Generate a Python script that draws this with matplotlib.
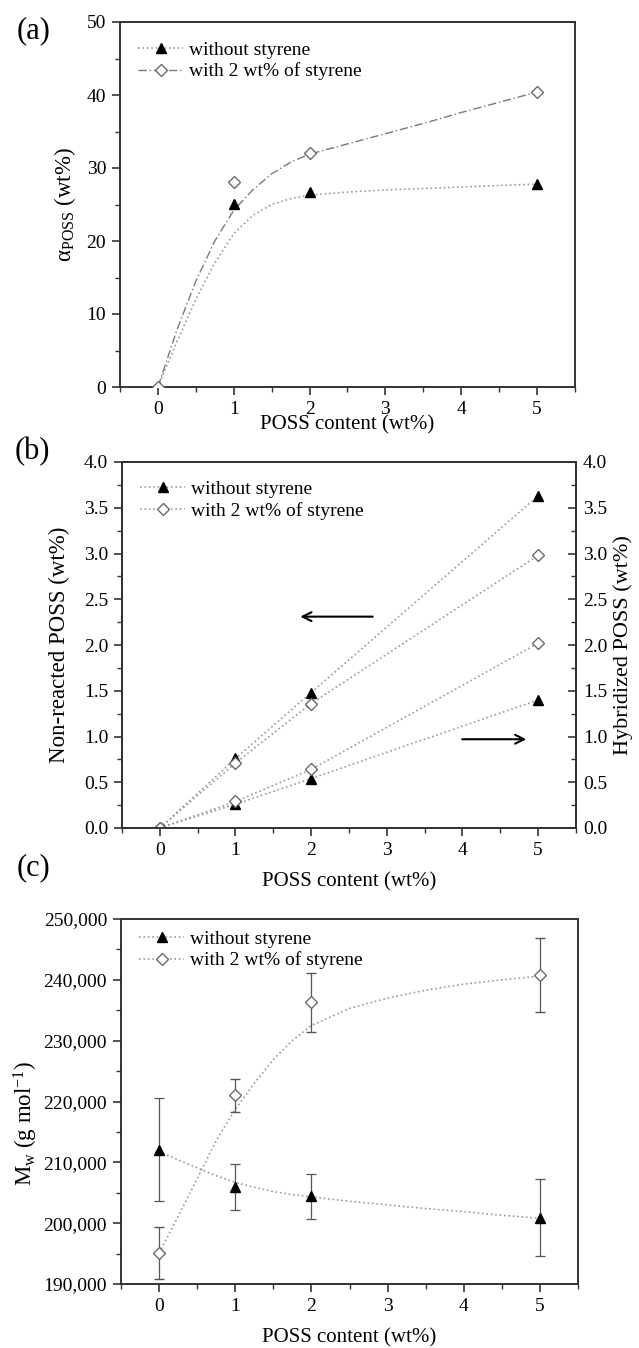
import matplotlib
matplotlib.use("Agg")
import matplotlib.pyplot as plt
from matplotlib.ticker import MultipleLocator, FuncFormatter

plt.rcParams["font.family"] = ["Liberation Serif", "DejaVu Serif"]
plt.rcParams["mathtext.fontset"] = "custom"
plt.rcParams["mathtext.rm"] = "Liberation Serif"
plt.rcParams["mathtext.it"] = "Liberation Serif:italic"

# POSS content (wt%)
poss = [0, 1, 2, 5]

# (a) alpha_POSS (wt%)
a_without = [0, 25.1, 26.7, 27.8]
a_with = [0, 28.1, 32.1, 40.4]
# trend curves
fit_x = [0, 0.25, 0.5, 0.75, 1, 1.25, 1.5, 1.75, 2, 2.5, 3, 3.5, 4, 4.5, 5]
a_with_fit = [0, 7.8, 14.5, 20.0, 24.2, 27.0, 29.2, 30.8, 31.9, 33.3, 34.7, 36.1, 37.6, 39.0, 40.4]
a_without_fit = [0, 6.2, 12.0, 17.0, 21.0, 23.5, 25.0, 25.8, 26.3, 26.7, 27.0, 27.2, 27.4, 27.6, 27.8]

# (b) non-reacted / hybridized POSS (wt%)
b_nonreact_without = [0, 0.76, 1.48, 3.63]
b_nonreact_with = [0, 0.71, 1.36, 2.98]
b_hybrid_without = [0, 0.26, 0.54, 1.40]
b_hybrid_with = [0, 0.29, 0.64, 2.02]

# (c) Mw (g/mol) with error bars
c_without = [212100, 205900, 204400, 200900]
c_without_err = [8400, 3800, 3700, 6300]
c_with = [195100, 221000, 236300, 240800]
c_with_err = [4200, 2700, 4900, 6100]
c_with_fit = [195100, 201100, 207300, 213600, 218700, 223000, 226900, 230000, 232500,
              235300, 237000, 238300, 239300, 240000, 240600]
c_without_fit = [211800, 210400, 209100, 207800, 206700, 205900, 205200, 204700, 204300,
                 203600, 203000, 202400, 201900, 201300, 200800]

W, H = 639, 1348
fig = plt.figure(figsize=(W / 100, H / 100), dpi=100)


def make_axes(left, right, top, bottom):
    return fig.add_axes([left / W, 1 - bottom / H, (right - left) / W, (bottom - top) / H])


SPINE = "#333333"
LINE = "#9a9a9a"
DIAM = "#6a6a6a"
TICK_FS = 14
LAB_FS = 16.5
LEG_FS = 14


def style(ax):
    for s in ax.spines.values():
        s.set_color(SPINE)
        s.set_linewidth(1.4)
    ax.tick_params(which="major", direction="out", length=6, width=1.2, color=SPINE,
                   labelsize=TICK_FS, pad=4, top=False, right=False)
    ax.tick_params(which="minor", direction="out", length=3.5, width=1.0, color=SPINE,
                   top=False, right=False)
    ax.set_xlim(-0.5, 5.5)
    ax.xaxis.set_major_locator(MultipleLocator(1))
    ax.xaxis.set_minor_locator(MultipleLocator(0.5))


def legend(ax, y):
    ax.legend(loc="upper left", bbox_to_anchor=(0.04, y), frameon=False, fontsize=LEG_FS,
              handlelength=2.3, handletextpad=0.3, labelspacing=0.2, borderpad=0, borderaxespad=0)


tri = dict(marker="^", ms=7, mec="black", mfc="black")
dia = dict(marker="D", ms=6.5, mec=DIAM, mfc="white", mew=1.0)

# ---------- (a) ----------
ax1 = make_axes(120, 575, 22, 387)
style(ax1)
ax1.plot(fit_x, a_without_fit, ls=":", color=LINE, lw=1.2, zorder=1)
ax1.plot(fit_x, a_with_fit, ls=(0, (6, 2, 1, 2)), color="#7a7a7a", lw=1.0, zorder=1)
ax1.plot(poss, a_without, ls="none", zorder=3, **tri)
ax1.plot(poss, a_with, ls="none", zorder=3, **dia)
ax1.plot([], [], ls=":", color=LINE, lw=1.2, label="without styrene", **tri)
ax1.plot([], [], ls=(0, (6, 2, 1, 2)), color="#7a7a7a", lw=1.0, label="with 2 wt% of styrene", **dia)
ax1.set_ylim(0, 50)
ax1.yaxis.set_major_locator(MultipleLocator(10))
ax1.yaxis.set_minor_locator(MultipleLocator(5))
ax1.set_ylabel("α$_{\\mathrm{POSS}}$ (wt%)", fontsize=LAB_FS)
ax1.yaxis.set_label_coords(-0.093, 0.5)
ax1.set_xlabel("POSS content (wt%)", fontsize=15)
ax1.xaxis.set_label_coords(0.5, -0.078)
legend(ax1, 0.948)
fig.text(17 / W, 1 - 31 / H, "(a)", fontsize=22, va="center", ha="left")

# ---------- (b) ----------
ax2 = make_axes(122, 576, 462, 828)
style(ax2)
ax2r = ax2.twinx()
ax2.plot(poss, b_nonreact_without, ls=":", color=LINE, lw=1.2, zorder=2, label="without styrene", **tri)
ax2.plot(poss, b_nonreact_with, ls=":", color=LINE, lw=1.2, zorder=2, label="with 2 wt% of styrene", **dia)
ax2r.plot(poss, b_hybrid_without, ls=":", color=LINE, lw=1.2, zorder=2, **tri)
ax2r.plot(poss, b_hybrid_with, ls=":", color=LINE, lw=1.2, zorder=2, **dia)
for a in (ax2, ax2r):
    a.set_ylim(0, 4.0)
    a.yaxis.set_major_locator(MultipleLocator(0.5))
    a.yaxis.set_minor_locator(MultipleLocator(0.25))
    a.yaxis.set_major_formatter(FuncFormatter(lambda v, p: f"{v:.1f}"))
ax2r.set_xlim(-0.5, 5.5)
for s in ax2r.spines.values():
    s.set_color(SPINE)
    s.set_linewidth(1.4)
ax2r.tick_params(axis="y", which="major", direction="in", length=6, width=1.2, color=SPINE,
                 labelsize=TICK_FS, pad=5)
ax2r.tick_params(axis="y", which="minor", direction="in", length=3.5, width=1.0, color=SPINE)
ax2.set_ylabel("Non-reacted POSS (wt%)", fontsize=LAB_FS)
ax2.yaxis.set_label_coords(-0.115, 0.5)
ax2r.set_ylabel("Hybridized POSS (wt%)", fontsize=16)
ax2r.yaxis.set_label_coords(1.082, 0.5)
ax2.set_xlabel("POSS content (wt%)", fontsize=15)
ax2.xaxis.set_label_coords(0.5, -0.12)
legend(ax2, 0.95)
ax2.annotate("", xy=(1.82, 2.31), xytext=(2.85, 2.31),
             arrowprops=dict(arrowstyle="->", lw=1.5, color="black", mutation_scale=16))
ax2.annotate("", xy=(4.88, 0.97), xytext=(3.96, 0.97),
             arrowprops=dict(arrowstyle="->", lw=1.5, color="black", mutation_scale=16))
fig.text(15 / W, 1 - 452 / H, "(b)", fontsize=22, va="center", ha="left")

# ---------- (c) ----------
ax3 = make_axes(121, 578, 919, 1284)
style(ax3)
ax3.plot(fit_x, c_without_fit, ls=":", color=LINE, lw=1.2, zorder=1)
ax3.plot(fit_x, c_with_fit, ls=":", color=LINE, lw=1.2, zorder=1)
ax3.errorbar(poss, c_without, yerr=c_without_err, ls="none", ecolor="#555555", elinewidth=0.9,
             capsize=3.5, capthick=0.9, zorder=3, **tri)
ax3.errorbar(poss, c_with, yerr=c_with_err, ls="none", ecolor="#555555", elinewidth=0.9,
             capsize=3.5, capthick=0.9, zorder=3, **dia)
ax3.plot([], [], ls=":", color=LINE, lw=1.2, label="without styrene", **tri)
ax3.plot([], [], ls=":", color=LINE, lw=1.2, label="with 2 wt% of styrene", **dia)
ax3.set_ylim(190000, 250000)
ax3.yaxis.set_major_locator(MultipleLocator(10000))
ax3.yaxis.set_minor_locator(MultipleLocator(5000))
ax3.yaxis.set_major_formatter(FuncFormatter(lambda v, p: f"{int(v):,}"))
ax3.set_ylabel("M$_{\\mathrm{w}}$ (g mol$^{\\mathrm{-1}}$)", fontsize=LAB_FS)
ax3.yaxis.set_label_coords(-0.177, 0.44)
ax3.set_xlabel("POSS content (wt%)", fontsize=15)
ax3.xaxis.set_label_coords(0.5, -0.12)
legend(ax3, 0.97)
fig.text(17 / W, 1 - 868 / H, "(c)", fontsize=22, va="center", ha="left")

fig.savefig("out.png", dpi=100)
